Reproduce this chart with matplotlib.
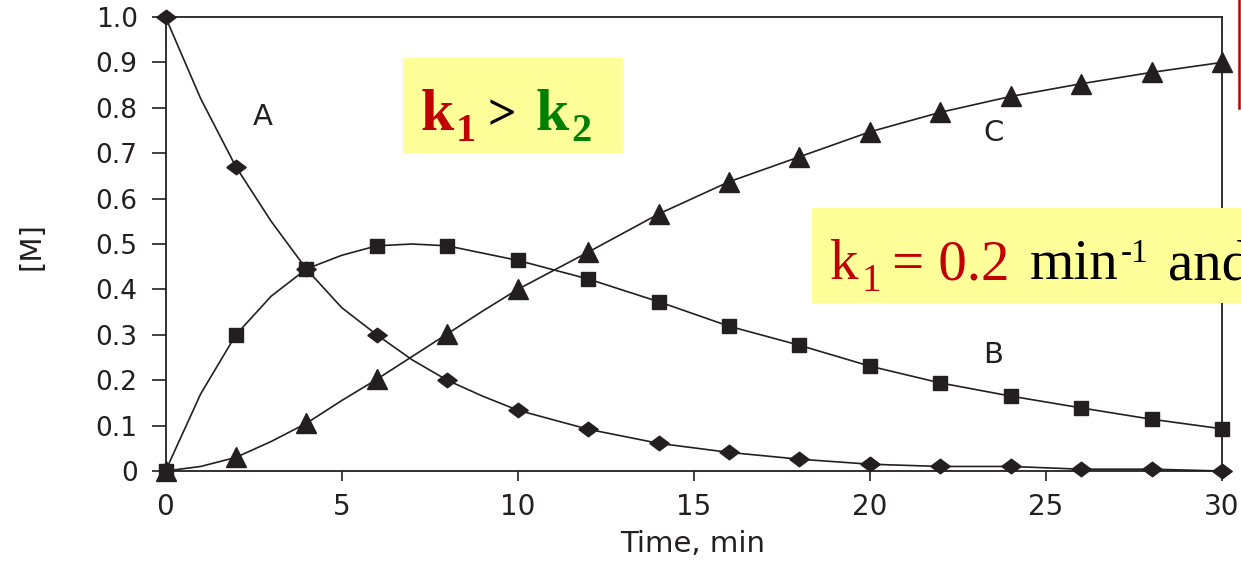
import numpy as np
import matplotlib.pyplot as plt
from matplotlib.patches import Rectangle
from matplotlib.lines import Line2D

### Data
# marker points (every 2 min)
t_pts = [0, 2, 4, 6, 8, 10, 12, 14, 16, 18, 20, 22, 24, 26, 28, 30]
A_pts = [1.0, 0.67, 0.445, 0.30, 0.20, 0.134, 0.092, 0.061, 0.041, 0.026, 0.015, 0.010, 0.010, 0.004, 0.004, 0.0]
B_pts = [0.0, 0.30, 0.445, 0.496, 0.496, 0.464, 0.423, 0.373, 0.319, 0.277, 0.231, 0.194, 0.165, 0.139, 0.114, 0.093]
C_pts = [0.0, 0.03, 0.105, 0.202, 0.302, 0.40, 0.482, 0.566, 0.637, 0.692, 0.747, 0.790, 0.825, 0.853, 0.878, 0.90]

# extra line vertices seen on the curves in the first minutes
t_mid = [1, 3, 5, 7, 9]
A_mid = [0.82, 0.55, 0.36, 0.245, 0.165]
B_mid = [0.17, 0.385, 0.475, 0.50, 0.48]
C_mid = [0.01, 0.065, 0.155, 0.252, 0.352]

x_ticks = [0, 5, 10, 15, 20, 25, 30]
y_ticks = [0, 0.1, 0.2, 0.3, 0.4, 0.5, 0.6, 0.7, 0.8, 0.9, 1.0]
y_ticklabels = ['0', '0.1', '0.2', '0.3', '0.4', '0.5', '0.6', '0.7', '0.8', '0.9', '1.0']

### Style
W, H = 1241, 562
ink = '#231f20'
box_yellow = '#ffff99'
dark_red = '#c00000'
green = '#008000'
plt.rcParams['font.family'] = ['DejaVu Sans']

def fx(px):
    return px / W

def fy(py):
    return 1 - py / H

def merged(t_a, v_a, t_b, v_b):
    t = np.array(t_a + t_b, dtype=float)
    v = np.array(v_a + v_b, dtype=float)
    order = np.argsort(t)
    return t[order], v[order]

### Plot
fig = plt.figure(figsize=(W / 100, H / 100), dpi=100)
ax = fig.add_axes([fx(165.5), fy(471), fx(1222) - fx(165.5), fy(17) - fy(471)])

diamond = [(-1, 0), (0, 0.75), (1, 0), (0, -0.75), (-1, 0)]

for t_m, v_m, pts, marker, ms in [
        (t_mid, A_mid, A_pts, diamond, 14),
        (t_mid, B_mid, B_pts, 's', 10),
        (t_mid, C_mid, C_pts, '^', 14)]:
    t_line, v_line = merged(t_pts, pts, t_m, v_m)
    ax.plot(t_line, v_line, '-', color=ink, linewidth=1.2, clip_on=False, zorder=3)
    ax.plot(t_pts, pts, linestyle='none', marker=marker, markersize=ms,
            color=ink, clip_on=False, zorder=4)

ax.set_xlim(0, 30)
ax.set_ylim(0, 1.0)
ax.set_xticks(x_ticks)
ax.set_yticks(y_ticks)
ax.set_yticklabels(y_ticklabels)
ax.tick_params(axis='y', direction='out', length=10, width=1.2, pad=10,
               labelsize=19, colors=ink)
ax.tick_params(axis='x', direction='out', length=7, width=1.2, pad=9,
               labelsize=20, colors=ink)
for sp in ax.spines.values():
    sp.set_color(ink)
    sp.set_linewidth(1.3)

# axis titles
fig.text(fx(693), fy(544), 'Time, min', fontsize=21, color=ink, ha='center', va='center')
fig.text(fx(32), fy(246), '[M]', fontsize=21, color=ink, ha='center', va='center',
         rotation=90)

# curve labels
ax.text(2.75, 0.78, 'A', fontsize=21, color=ink, ha='center', va='center')
ax.text(23.5, 0.255, 'B', fontsize=21, color=ink, ha='center', va='center')
ax.text(23.5, 0.745, 'C', fontsize=21, color=ink, ha='center', va='center')

### Yellow boxes with rate constant text
serif = 'Liberation Serif'

fig.add_artist(Rectangle((fx(403), fy(153)), fx(623) - fx(403), fy(58) - fy(153),
                         transform=fig.transFigure, facecolor=box_yellow,
                         edgecolor='none', zorder=5))
fig.text(fx(421), fy(130), 'k', fontsize=43, fontweight='bold', family=serif,
         color=dark_red, va='baseline', zorder=6)
fig.text(fx(456), fy(141), '1', fontsize=29, fontweight='bold', family=serif,
         color=dark_red, va='baseline', zorder=6)
fig.text(fx(488), fy(129), '>', fontsize=36, fontweight='bold', family=serif,
         color='black', va='baseline', zorder=6)
fig.text(fx(536), fy(130), 'k', fontsize=43, fontweight='bold', family=serif,
         color=green, va='baseline', zorder=6)
fig.text(fx(571), fy(141), '2', fontsize=29, fontweight='bold', family=serif,
         color=green, va='baseline', zorder=6)

fig.add_artist(Rectangle((fx(812), fy(303)), fx(1241) - fx(812), fy(208) - fy(303),
                         transform=fig.transFigure, facecolor=box_yellow,
                         edgecolor='none', zorder=5))
fig.text(fx(830), fy(279), 'k', fontsize=41, family=serif,
         color=dark_red, va='baseline', zorder=6)
fig.text(fx(862), fy(291), '1', fontsize=28, family=serif,
         color=dark_red, va='baseline', zorder=6)
fig.text(fx(892), fy(279), '= 0.2', fontsize=41, family=serif,
         color=dark_red, va='baseline', zorder=6)
fig.text(fx(1030), fy(279), 'min', fontsize=41, family=serif,
         color='black', va='baseline', zorder=6)
fig.text(fx(1121), fy(262), '-1', fontsize=24, family=serif,
         color='black', va='baseline', zorder=6)
fig.text(fx(1168), fy(279), 'and', fontsize=41, family=serif,
         color='black', va='baseline', zorder=6)

# edge of a red box cut off at the right
fig.add_artist(Line2D([fx(1239), fx(1239)], [fy(0), fy(108)], transform=fig.transFigure,
                      color=dark_red, linewidth=1.8, zorder=6))

fig.savefig('out.png', dpi=100)
